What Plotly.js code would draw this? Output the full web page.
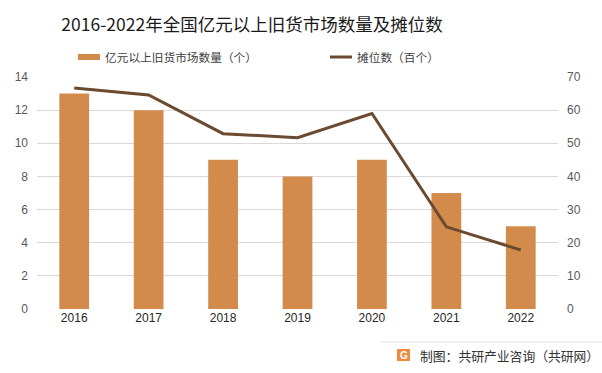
<!DOCTYPE html>
<html>
<head>
<meta charset="utf-8">
<script src="https://cdn.plot.ly/plotly-3.0.1.min.js"></script>
<style>html,body{margin:0;padding:0;background:#fff;}#chart{width:602px;height:373px;}</style>
</head>
<body>
<div id="chart"></div>
<script>
const years = ['2016','2017','2018','2019','2020','2021','2022'];
const marketCount = [13, 12, 9, 8, 9, 7, 5];
const stallCount = [66.7, 64.6, 52.9, 51.7, 59.0, 24.8, 17.8];
const barName = '亿元以上旧货市场数量（个）';
const lineName = '摊位数（百个）';
const titleText = '2016-2022年全国亿元以上旧货市场数量及摊位数';
const sourceText = '制图：共研产业咨询（共研网）';

const W = 602, H = 373;
const M = {l: 37, r: 44, t: 77, b: 64};
const pw = W - M.l - M.r, ph = H - M.t - M.b;
const px = x => (x - M.l) / pw;
const py = y => (H - M.b - y) / ph;

const barColor = '#D38B4C';
const lineColor = '#6B4A2F';
const font = '"Noto Sans CJK SC", "Noto Sans", sans-serif';

const traces = [
  {type: 'bar', x: years, y: marketCount, name: barName, marker: {color: barColor}, yaxis: 'y', hoverinfo: 'none'},
  {type: 'scatter', mode: 'lines', x: years, y: stallCount, name: lineName, line: {color: lineColor, width: 3}, yaxis: 'y2', hoverinfo: 'none'}
];

const layout = {
  width: W, height: H,
  margin: M,
  paper_bgcolor: '#fff', plot_bgcolor: '#fff',
  showlegend: false,
  bargap: 0.6,
  font: {family: font, color: '#595959', size: 12},
  title: {text: titleText, font: {family: font, size: 17.5, color: '#1a1a1a'}, xref: 'container', yref: 'container', x: 252/W, xanchor: 'center', y: 1 - 25/H, yanchor: 'middle'},
  xaxis: {type: 'category', tickfont: {family: '"Liberation Sans", sans-serif', size: 12, color: '#262626'}, showline: false, ticks: '', showgrid: false, zeroline: false},
  yaxis: {range: [0, 14], dtick: 2, tick0: 0, showgrid: true, gridcolor: '#d9d9d9', gridwidth: 1, zeroline: false, tickfont: {family: '"Liberation Sans", sans-serif', size: 12, color: '#595959'}, ticks: '', ticklabelstandoff: 8},
  yaxis2: {range: [0, 70], dtick: 10, tick0: 0, overlaying: 'y', side: 'right', showgrid: false, zeroline: false, tickfont: {family: '"Liberation Sans", sans-serif', size: 12, color: '#595959'}, ticks: '', ticklabelstandoff: 8},
  shapes: [
    {type: 'rect', xref: 'paper', yref: 'paper', x0: px(78), x1: px(100), y0: py(60), y1: py(54), fillcolor: barColor, line: {width: 0}},
    {type: 'line', xref: 'paper', yref: 'paper', x0: px(330), x1: px(352), y0: py(57), y1: py(57), line: {color: lineColor, width: 3}},
    {type: 'line', xref: 'paper', yref: 'paper', x0: px(380), x1: px(602), y0: py(342), y1: py(342), line: {color: '#e3e3e3', width: 1}},
    {type: 'rect', xref: 'paper', yref: 'paper', x0: px(397), x1: px(410), y0: py(361), y1: py(349), fillcolor: '#F08A3C', line: {width: 0}}
  ],
  annotations: [
    {xref: 'paper', yref: 'paper', x: px(103), y: py(57), text: barName, showarrow: false, xanchor: 'left', yanchor: 'middle', font: {family: font, size: 11.7, color: '#404040'}},
    {xref: 'paper', yref: 'paper', x: px(355), y: py(57), text: lineName, showarrow: false, xanchor: 'left', yanchor: 'middle', font: {family: font, size: 11.7, color: '#404040'}},
    {xref: 'paper', yref: 'paper', x: px(403.5), y: py(355), text: '<b>G</b>', showarrow: false, xanchor: 'center', yanchor: 'middle', font: {family: '"Liberation Sans", sans-serif', size: 10, color: '#ffffff'}},
    {xref: 'paper', yref: 'paper', x: px(418), y: py(355), text: sourceText, showarrow: false, xanchor: 'left', yanchor: 'middle', font: {family: font, size: 12.8, color: '#333333'}}
  ]
};

Plotly.newPlot('chart', traces, layout, {displayModeBar: false, staticPlot: true});
</script>
</body>
</html>
